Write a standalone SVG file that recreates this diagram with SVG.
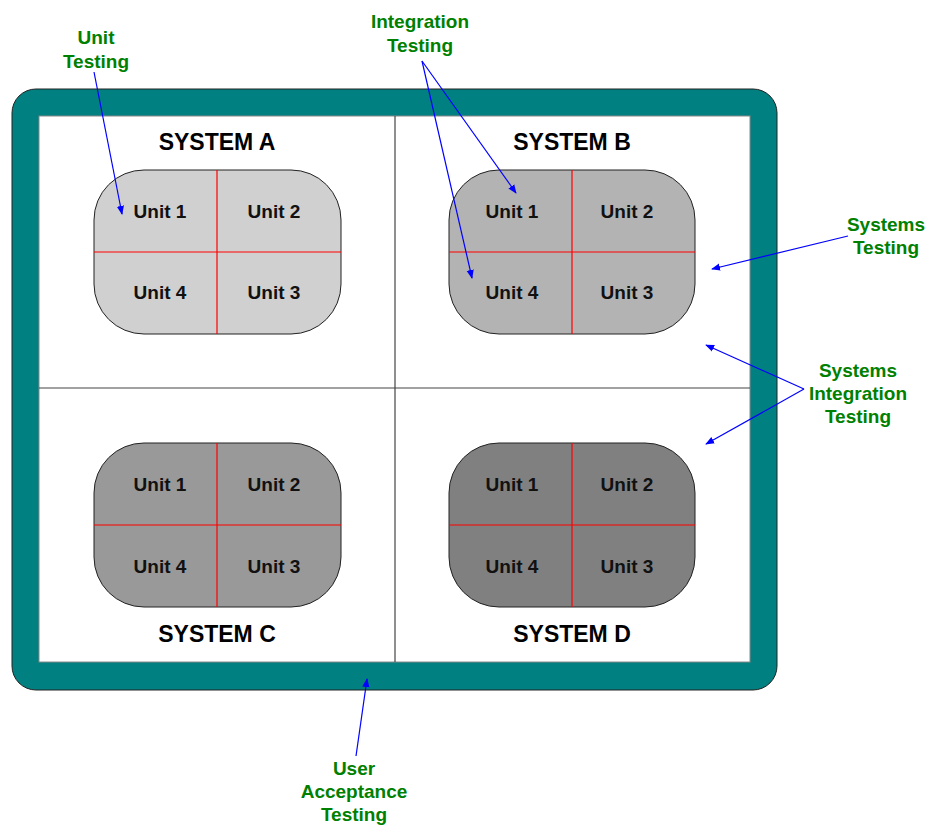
<svg xmlns="http://www.w3.org/2000/svg" width="940" height="826" viewBox="0 0 940 826">
<defs>
<style>
.sys{font-family:"Liberation Sans",Arial,sans-serif;font-weight:bold;font-size:23px;fill:#000;text-anchor:middle}
.unit{font-family:"Liberation Sans",Arial,sans-serif;font-weight:bold;font-size:19px;fill:#111;text-anchor:middle}
.lbl{font-family:"Liberation Sans",Arial,sans-serif;font-weight:bold;font-size:19px;fill:#008000;text-anchor:middle}
.box{stroke:#222;stroke-width:1}
.red{stroke:#ff0000;stroke-width:1.2}
.arr{stroke:#0000ff;stroke-width:1.2;fill:none;marker-end:url(#ah)}
</style>
<marker id="ah" viewBox="0 0 10 10" refX="9" refY="5" markerWidth="9" markerHeight="9" markerUnits="userSpaceOnUse" orient="auto">
<path d="M0,1 L10,5 L0,9 Z" fill="#0000ff"/>
</marker>
</defs>
<rect width="940" height="826" fill="#fff"/>
<g id="frame">
<rect x="12" y="89" width="765" height="601" rx="24" fill="#008080" stroke="#222" stroke-width="1"/>
<rect x="39" y="116" width="711" height="546" fill="#fff" stroke="#888" stroke-width="1"/>
<line x1="395" y1="116" x2="395" y2="662" stroke="#444" stroke-width="1.2"/>
<line x1="39" y1="388" x2="750" y2="388" stroke="#444" stroke-width="1.2"/>
</g>
<g id="systemA">
<text class="sys" x="217" y="150">SYSTEM A</text>
<rect class="box" x="94" y="170" width="247" height="164" rx="50" fill="#d0d0d0"/>
<line class="red" x1="217" y1="170" x2="217" y2="334"/>
<line class="red" x1="94" y1="252" x2="341" y2="252"/>
<text class="unit" x="160" y="218">Unit 1</text>
<text class="unit" x="274" y="218">Unit 2</text>
<text class="unit" x="160" y="299">Unit 4</text>
<text class="unit" x="274" y="299">Unit 3</text>
</g>
<g id="systemB">
<text class="sys" x="572" y="150">SYSTEM B</text>
<rect class="box" x="449" y="170" width="246" height="164" rx="50" fill="#b3b3b3"/>
<line class="red" x1="572" y1="170" x2="572" y2="334"/>
<line class="red" x1="449" y1="252" x2="695" y2="252"/>
<text class="unit" x="512" y="218">Unit 1</text>
<text class="unit" x="627" y="218">Unit 2</text>
<text class="unit" x="512" y="299">Unit 4</text>
<text class="unit" x="627" y="299">Unit 3</text>
</g>
<g id="systemC">
<rect class="box" x="94" y="443" width="247" height="164" rx="50" fill="#999999"/>
<line class="red" x1="217" y1="443" x2="217" y2="607"/>
<line class="red" x1="94" y1="525" x2="341" y2="525"/>
<text class="unit" x="160" y="491">Unit 1</text>
<text class="unit" x="274" y="491">Unit 2</text>
<text class="unit" x="160" y="573">Unit 4</text>
<text class="unit" x="274" y="573">Unit 3</text>
<text class="sys" x="217" y="642">SYSTEM C</text>
</g>
<g id="systemD">
<rect class="box" x="449" y="443" width="246" height="164" rx="50" fill="#808080"/>
<line class="red" x1="572" y1="443" x2="572" y2="607"/>
<line class="red" x1="449" y1="525" x2="695" y2="525"/>
<text class="unit" x="512" y="491">Unit 1</text>
<text class="unit" x="627" y="491">Unit 2</text>
<text class="unit" x="512" y="573">Unit 4</text>
<text class="unit" x="627" y="573">Unit 3</text>
<text class="sys" x="572" y="642">SYSTEM D</text>
</g>
<g id="labels">
<text class="lbl" x="96" y="44">Unit</text>
<text class="lbl" x="96" y="68">Testing</text>
<text class="lbl" x="420" y="28">Integration</text>
<text class="lbl" x="420" y="52">Testing</text>
<text class="lbl" x="886" y="231">Systems</text>
<text class="lbl" x="886" y="254">Testing</text>
<text class="lbl" x="858" y="377">Systems</text>
<text class="lbl" x="858" y="400">Integration</text>
<text class="lbl" x="858" y="423">Testing</text>
<text class="lbl" x="354" y="775">User</text>
<text class="lbl" x="354" y="798">Acceptance</text>
<text class="lbl" x="354" y="821">Testing</text>
</g>
<g id="connectors">
<line class="arr" x1="94" y1="72" x2="122" y2="214"/>
<line class="arr" x1="422" y1="61" x2="516" y2="193"/>
<line class="arr" x1="422" y1="61" x2="472" y2="278"/>
<line class="arr" x1="848" y1="236" x2="712" y2="269"/>
<line class="arr" x1="804" y1="389" x2="706" y2="345"/>
<line class="arr" x1="804" y1="389" x2="706" y2="444"/>
<line class="arr" x1="356" y1="756" x2="367" y2="679"/>
</g>
</svg>
